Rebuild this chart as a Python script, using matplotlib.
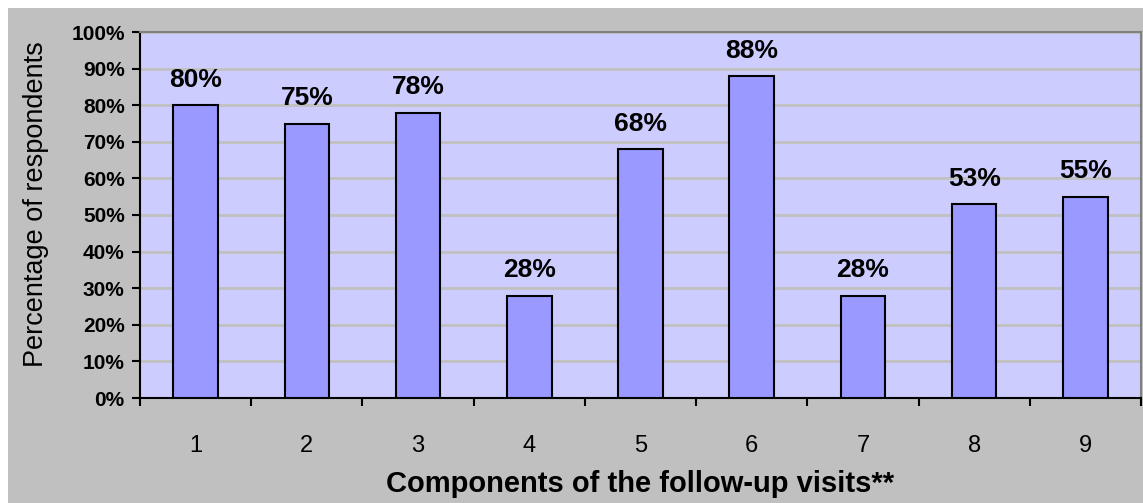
import matplotlib.pyplot as plt
from matplotlib.patches import Rectangle

plt.rcParams['font.family'] = ['Liberation Sans', 'DejaVu Sans']

components = ["1", "2", "3", "4", "5", "6", "7", "8", "9"]
pct = [80, 75, 78, 28, 68, 88, 28, 53, 55]
yticks = [0, 10, 20, 30, 40, 50, 60, 70, 80, 90, 100]

fig = plt.figure(figsize=(11.43, 5.03), dpi=100)
fig.patch.set_facecolor("white")
# grey chart area (leaves a thin white strip top and left)
fig.patches.append(Rectangle((8 / 1143, 0), 1 - 8 / 1143, 1 - 8 / 503,
                             transform=fig.transFigure, facecolor="#C0C0C0",
                             edgecolor="none", zorder=-10))

ax = fig.add_axes([140 / 1143, 1 - 398 / 503, (1141 - 140) / 1143, (398 - 32) / 503])
ax.set_zorder(1)
ax.set_facecolor("#CCCCFF")

x = list(range(len(components)))
ax.bar(x, pct, width=0.4, color="#9999FF", edgecolor="black", linewidth=1.5, zorder=3)
for xi, v in zip(x, pct):
    ax.text(xi, v + 5, f"{v}%", ha="center", va="baseline", fontsize=19,
            fontweight="bold", zorder=4)

ax.set_xlim(-0.5, len(components) - 0.5)
ax.set_ylim(0, 100)
ax.set_yticks(yticks)
ax.set_yticklabels([f"{t}%" for t in yticks], fontsize=15, fontweight="bold")
ax.yaxis.grid(True, color="#C0C0C0", linewidth=2, zorder=0)
ax.set_axisbelow(True)

# ticks at category boundaries, labels at centres
ax.set_xticks([i - 0.5 for i in range(len(components) + 1)])
ax.set_xticklabels([])
ax.set_xticks(x, minor=True)
ax.set_xticklabels(components, minor=True, fontsize=17)
ax.tick_params(axis="x", which="major", direction="out", length=6, width=1.5)
ax.tick_params(axis="x", which="minor", length=0, pad=27)
ax.tick_params(axis="y", direction="out", length=6, width=1.5, pad=5)

for s in ["left", "bottom"]:
    ax.spines[s].set_color("black")
    ax.spines[s].set_linewidth(1.5)
for s in ["top", "right"]:
    ax.spines[s].set_color("#808080")
    ax.spines[s].set_linewidth(1.5)

ax.set_ylabel("Percentage of respondents", fontsize=19.5)
ax.yaxis.set_label_coords(-91 / 1001, (398 - 204) / 366)
ax.set_xlabel("Components of the follow-up visits**", fontsize=21,
              fontweight="bold", labelpad=9)

fig.savefig("out.png", dpi=100, facecolor=fig.get_facecolor())
